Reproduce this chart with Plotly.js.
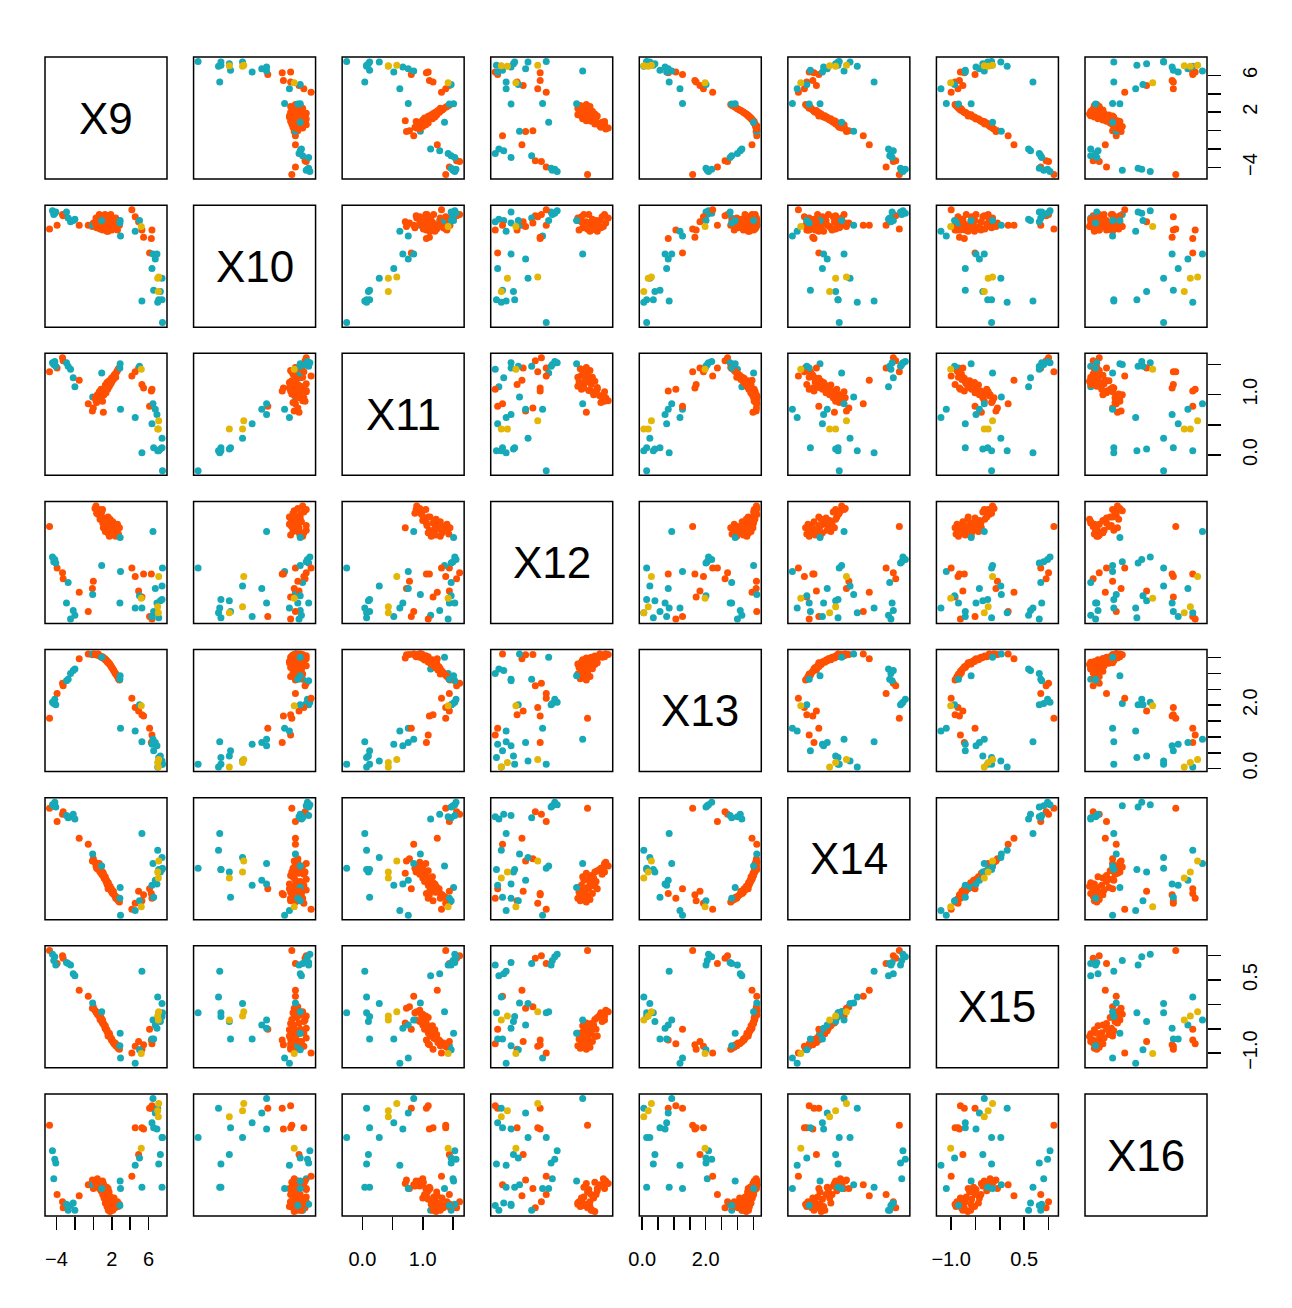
<!DOCTYPE html>
<html>
<head>
<meta charset="utf-8">
<script src="https://cdn.plot.ly/plotly-3.0.1.min.js"></script>
<style>
  html, body { margin: 0; padding: 0; background: #fff; }
</style>
</head>
<body>
<div id="plot" style="width:1292px;height:1308px"></div>
<script>
// variable names shown on the diagonal
const varNames = ['X9', 'X10', 'X11', 'X12', 'X13', 'X14', 'X15', 'X16'];

// 1 = orange, 2 = teal, 3 = gold
const group = [
  1, 1, 1, 1,
  2, 2, 2, 2,
  2, 2, 2, 2, 2,
  1, 1, 1, 1,
  2,
  1, 1, 1, 1, 1, 1, 1, 1, 1, 1, 1, 1, 1, 1, 1, 1, 1, 1,
  1, 1, 1, 1, 1, 1, 1, 1, 1, 1, 1, 1, 1, 1, 1, 1, 1, 1,
  2,
  2, 2, 2,
  1, 1, 1, 1, 1, 1, 1, 1,
  2, 2, 2,
  2, 2, 2, 2, 2, 2, 2, 2, 2, 2, 2,
  3, 3, 3, 3
];
const groupColors = ['#FF4F00', '#17A9B7', '#E4B606'];

const x9 = [
  -4.75, -3.93, -3.34, -3.27,
  -4.43, -4.18, -4.07, -4.29,
  -2.91, -2.73, -2.47, -2.18, -2.00,
  -1.53, -0.55, 0.00, -0.10,
  -0.07,
  0.18, 0.29, 0.44, 0.54, 0.65, 0.73, 0.84, 0.91, 1.02, 1.09, 1.16, 1.27, 1.30, 1.38, 1.45, 1.48, 1.56, 1.63,
  1.71, 1.74, 1.82, 1.89, 1.96, 2.00, 2.11, 2.18, 2.25, 2.36, 2.43, 2.54, 2.62, 2.72, 2.83, 1.00, 1.60, 0.36,
  0.91,
  2.91, 2.95, 2.88,
  4.18, 4.54, 4.91, 5.27, 5.45, 6.10, 6.36, 6.29,
  4.54, 5.01, 5.27,
  6.47, 6.72, 6.90, 6.36, 7.45, 6.54, 7.27, 7.09, 7.45, 6.98, 7.50,
  5.20, 7.09, 7.05, 6.98
];

const x10 = [
  81, 84, 93, 92,
  96, 94, 95, 93,
  95, 90, 87, 88, 89,
  84, 84, 86, 83,
  84,
  86, 90, 83, 88, 93, 81, 85, 91, 80, 87, 83, 93, 82, 88, 84, 79, 91, 86,
  81, 88, 83, 93, 85, 80, 89, 83, 87, 82, 90, 85, 80, 88, 84, 92, 79, 82,
  88,
  88, 75, 86,
  97, 91, 87, 80, 74, 61, 80, 73,
  79, 88, 21,
  60, 56, 60, 48, 40, 30, 29, 22, 22, 20, 3,
  83, 41, 29, 40
];

const x11 = [
  1.38, 1.44, 1.61, 1.56,
  1.53, 1.55, 1.47, 1.50,
  1.53, 1.47, 1.42, 1.28, 1.13,
  1.24, 0.85, 0.78, 0.73,
  0.96,
  0.95, 0.90, 1.00, 0.98, 1.05, 1.01, 1.09, 0.95, 1.06, 0.71, 1.00, 1.07, 1.16, 1.03, 1.11, 1.20, 1.09, 1.17,
  1.23, 1.14, 1.22, 1.18, 1.27, 1.21, 1.29, 1.25, 1.32, 1.34, 1.29, 1.38, 1.40, 1.43, 1.45, 0.89, 1.12, 0.87,
  1.36,
  1.51, 0.76, 1.44,
  1.31, 1.38, 1.44, 1.17, 1.11, 0.81, 1.09, 1.06,
  0.62, 1.47, 0.04,
  0.85, 0.76, 0.67, 0.52, 0.28, 0.12, 0.10, 0.07, 0.12, 0.07, -0.26,
  1.42, 0.57, 0.43, 0.43
];

const x12 = [
  80, 46, 42, 37,
  55, 53, 50, 51,
  17, 34, 4, 11, 7,
  26, 10, 35, 29,
  24,
  95, 97, 93, 90, 94, 86, 88, 92, 83, 79, 85, 81, 76, 87, 77, 82, 75, 83,
  80, 72, 86, 77, 81, 73, 84, 78, 75, 80, 72, 77, 82, 74, 79, 94, 88, 91,
  48,
  71, 43, 17,
  46, 39, 27, 22, 41, 6, 4, 41,
  13, 23, 13,
  76, 29, 17, 6, 31, 10, 19, 5, 20, 9, 46,
  21, 39, 9, 14
];

const x13 = [
  1.59, 2.37, 2.69, 2.61,
  2.09, 2.19, 2.01, 2.05,
  2.77, 2.82, 3.00, 3.09, 3.14,
  3.46, 3.61, 3.60, 3.59,
  3.61,
  3.61, 3.60, 3.59, 3.61, 3.56, 3.55, 3.53, 3.51, 3.51, 3.49, 3.47, 3.46, 3.43, 3.42, 3.40, 3.38, 3.36, 3.35,
  3.32, 3.30, 3.28, 3.24, 3.21, 3.19, 3.15, 3.11, 3.07, 3.02, 2.98, 2.94, 2.90, 2.83, 2.79, 3.53, 3.34, 3.58,
  3.51,
  2.93, 1.27, 2.82,
  2.22, 1.93, 1.82, 1.70, 1.66, 1.27, 1.06, 0.82,
  1.19, 2.01, 0.85,
  0.93, 0.82, 0.72, 0.77, 0.24, 0.56, 0.40, 0.35, 0.14, 0.05, 0.14,
  1.98, 0.29, 0.05, 0.19
];

const x14 = [
  92, 81, 87, 89,
  95, 97, 93, 94,
  86, 84, 85, 87, 83,
  67, 62, 50, 48,
  54,
  47, 44, 43, 41, 46, 39, 40, 37, 36, 38, 34, 33, 35, 31, 32, 29, 28, 30,
  26, 26, 27, 24, 25, 22, 21, 23, 20, 19, 17, 18, 16, 15, 14, 39, 25, 42,
  44,
  26, 3, 17,
  8, 13, 23, 15, 20, 25, 17, 21,
  7, 15, 71,
  46, 32, 29, 28, 51, 18, 39, 41, 41, 57, 42,
  10, 48, 34, 39
];

const x15 = [
  1.11, 0.84, 1.00, 0.95,
  1.03, 0.98, 0.81, 0.90,
  0.86, 0.84, 0.81, 0.63, 0.59,
  0.29, 0.17, -0.05, -0.08,
  0.03,
  -0.12, -0.15, -0.20, -0.22, -0.24, -0.31, -0.27, -0.35, -0.39, -0.38, -0.42, -0.49, -0.44, -0.51, -0.54, -0.52, -0.58, -0.60,
  -0.62, -0.59, -0.66, -0.69, -0.73, -0.71, -0.76, -0.78, -0.81, -0.79, -0.85, -0.83, -0.88, -0.90, -0.92, -0.32, -0.65, -0.17,
  -0.15,
  -0.59, -1.10, -0.85,
  -1.00, -0.86, -0.76, -0.92, -0.83, -0.51, -0.81, -0.73,
  -1.21, -0.93, 0.68,
  -0.32, -0.42, -0.49, -0.71, 0.02, -0.71, -0.35, -0.17, -0.25, 0.15, -0.17,
  -1.01, -0.15, -0.32, -0.24
];

const x16 = [
  74, 17, 11, 6,
  53, 46, 43, 30,
  9, 4, 8, 10, 4,
  16, 25, 22, 29,
  25,
  28, 26, 30, 25, 22, 27, 20, 24, 17, 26, 14, 21, 10, 17, 23, 7, 13, 4,
  19, 9, 3, 15, 6, 11, 4, 9, 14, 6, 10, 8, 11, 7, 9, 28, 22, 24,
  22,
  28, 22, 8,
  32, 72, 50, 72, 71, 88, 90, 88,
  41, 47, 23,
  96, 84, 71, 76, 64, 72, 50, 42, 23, 88, 64,
  55, 92, 81, 86
];

// tick marks and labels of the labelled axes (X9, X11, X13, X15)
const x9Ticks = [-4, -2, 0, 2, 4, 6, 8];
const x9TickText = ['\u22124', '', '', '2', '', '6', ''];
const x11Ticks = [0, 0.5, 1, 1.5];
const x11TickText = ['0.0', '', '1.0', ''];
const x13Ticks = [0, 0.5, 1, 1.5, 2, 2.5, 3, 3.5];
const x13TickText = ['0.0', '', '', '', '2.0', '', '', ''];
const x15Ticks = [-1, -0.5, 0, 0.5, 1];
const x15TickText = ['\u22121.0', '', '', '0.5', ''];

const columns = [x9, x10, x11, x12, x13, x14, x15, x16];
const tickSets = [
  [x9Ticks, x9TickText], null, [x11Ticks, x11TickText], null,
  [x13Ticks, x13TickText], null, [x15Ticks, x15TickText], null
];

const n = varNames.length;
const colors = group.map(g => groupColors[g - 1]);
const fontFamily = 'Liberation Sans, Arial, Helvetica, sans-serif';

// R style range: data range widened by 4% on each side
function paddedRange(arr) {
  const lo = Math.min(...arr), hi = Math.max(...arr);
  const pad = (hi - lo) * 0.04;
  return [lo - pad, hi + pad];
}

function axName(letter, k) {
  return letter + (k === 0 ? '' : (k + 1));
}

const traces = [];
const annotations = [];
const shapes = [];
for (let i = 0; i < n; i++) {
  for (let j = 0; j < n; j++) {
    const xa = axName('x', j);
    const ya = axName('y', i);
    // frame around every panel
    shapes.push({
      type: 'rect', xref: xa + ' domain', yref: ya + ' domain',
      x0: 0, x1: 1, y0: 0, y1: 1,
      line: { color: '#000', width: 1.5 }, layer: 'above'
    });
    if (i === j) {
      annotations.push({
        xref: xa + ' domain', yref: ya + ' domain',
        x: 0.5, y: 0.5, showarrow: false,
        text: varNames[i],
        font: { family: fontFamily, size: 44, color: '#000' }
      });
    } else {
      traces.push({
        x: columns[j], y: columns[i], xaxis: xa, yaxis: ya,
        type: 'scatter', mode: 'markers',
        marker: { size: 7, color: colors, line: { width: 0 } },
        hoverinfo: 'skip', showlegend: false
      });
    }
  }
}

const W = 1292, H = 1308;
const margin = { l: 45, r: 85, t: 57, b: 92 };
const plotW = W - margin.l - margin.r;
const plotH = H - margin.t - margin.b;
const cell = 122;
const stepX = (plotW - cell) / (n - 1);
const stepY = (plotH - cell) / (n - 1);

const layout = {
  width: W,
  height: H,
  margin: margin,
  paper_bgcolor: '#fff',
  plot_bgcolor: '#fff',
  showlegend: false,
  annotations: annotations,
  shapes: shapes,
  font: { family: fontFamily, color: '#000' }
};

for (let k = 0; k < n; k++) {
  const labelled = tickSets[k] !== null;
  const common = {
    range: paddedRange(columns[k]),
    showline: false,
    showgrid: false,
    zeroline: false,
    fixedrange: true,
    ticks: labelled ? 'outside' : '',
    ticklen: 13,
    tickwidth: 1.5,
    tickcolor: '#000',
    showticklabels: labelled,
    ticklabelstandoff: 12,
    tickfont: { family: fontFamily, size: 20, color: '#000' }
  };
  if (labelled) {
    common.tickmode = 'array';
    common.tickvals = tickSets[k][0];
    common.ticktext = tickSets[k][1];
  }
  const x0 = k * stepX;
  layout['xaxis' + (k === 0 ? '' : k + 1)] = Object.assign({}, common, {
    domain: [x0 / plotW, (x0 + cell) / plotW],
    anchor: axName('y', n - 1),
    side: 'bottom'
  });
  const y0 = k * stepY;
  layout['yaxis' + (k === 0 ? '' : k + 1)] = Object.assign({}, common, {
    domain: [1 - (y0 + cell) / plotH, 1 - y0 / plotH],
    anchor: axName('x', n - 1),
    side: 'right',
    tickangle: -90
  });
}

Plotly.newPlot('plot', traces, layout, { staticPlot: true, displayModeBar: false });
</script>
</body>
</html>
